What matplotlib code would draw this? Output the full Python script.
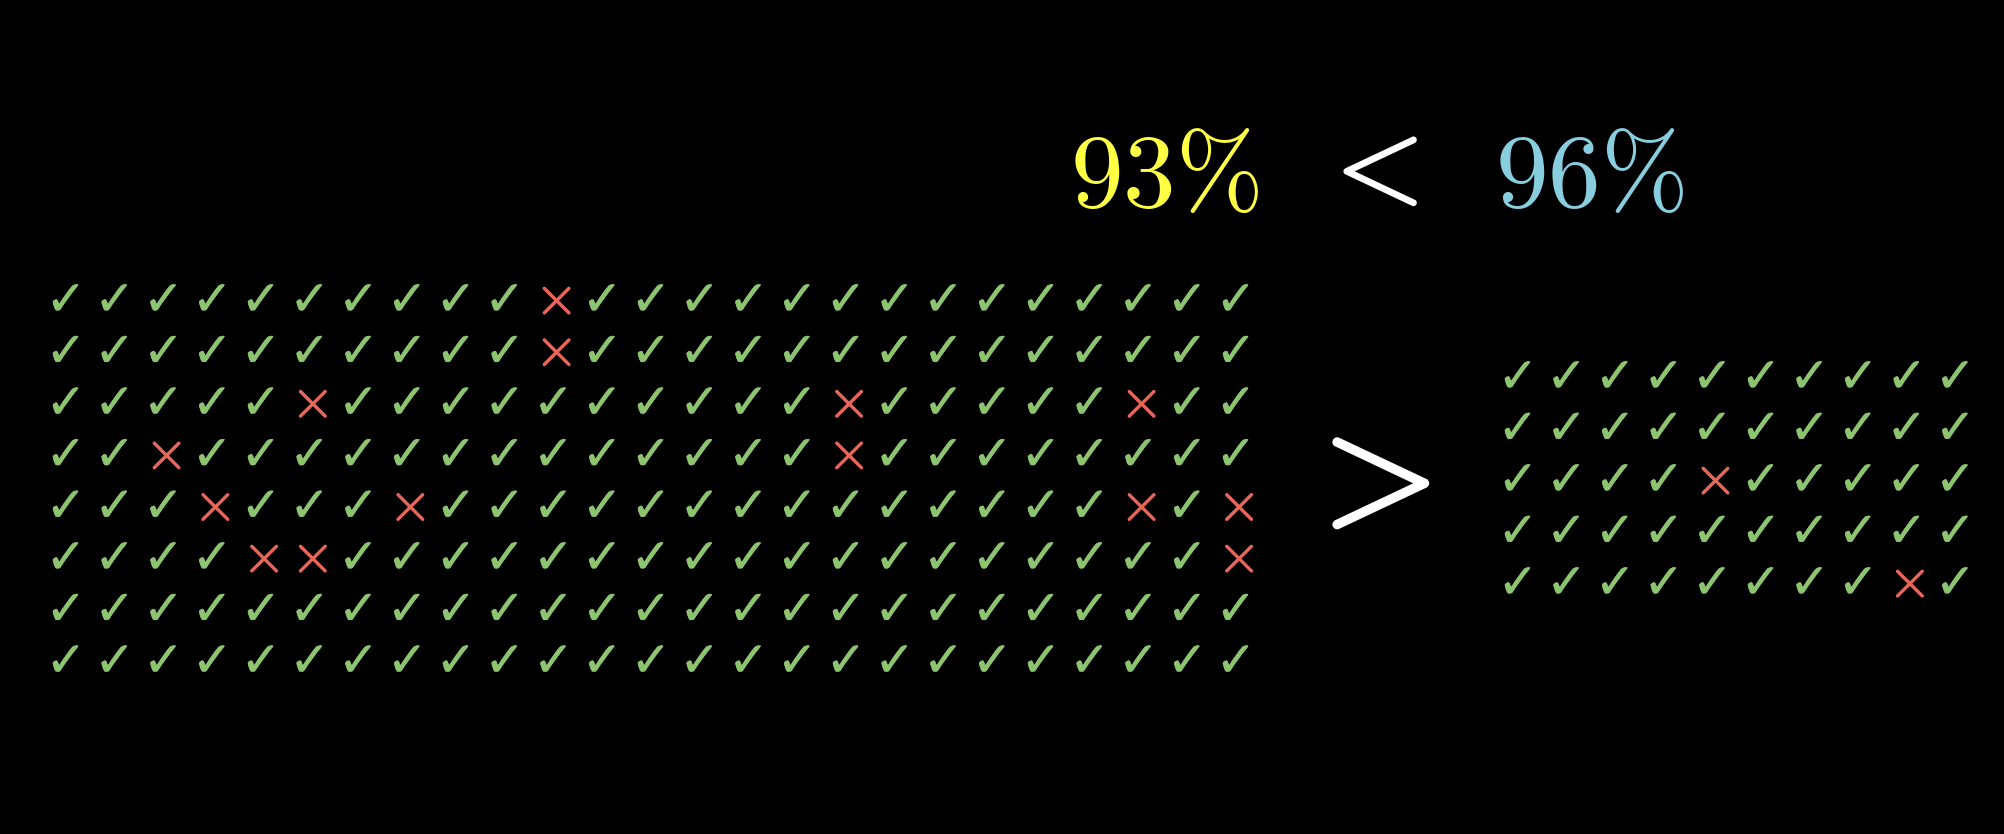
import matplotlib
matplotlib.use("Agg")
import matplotlib.pyplot as plt
import matplotlib.patheffects as pe

plt.rcParams['mathtext.fontset'] = 'cm'

# ---- data ----
left_rows, left_cols = 8, 25
left_wrong = [(0, 10), (1, 10), (2, 5), (2, 16), (2, 22), (3, 2), (3, 16),
              (4, 3), (4, 7), (4, 22), (4, 24), (5, 4), (5, 5), (5, 24)]
right_rows, right_cols = 5, 10
right_wrong = [(2, 4), (4, 8)]
pct_labels = ["93%", "96%"]
pct_colors = ["#FFFF44", "#88CEDF"]
compare_top = "<"
compare_mid = ">"

GREEN = "#8DC46F"
RED = "#E8665A"

W, H = 2004, 834
fig = plt.figure(figsize=(W / 100, H / 100), dpi=100, facecolor="black")
ax = fig.add_axes([0, 0, 1, 1])
ax.set_facecolor("black")
ax.set_xlim(0, W)
ax.set_ylim(H, 0)
ax.axis("off")


def draw_grid(x0, y0, dx, dy, rows, cols, wrong):
    wrong = set(wrong)
    for r in range(rows):
        for c in range(cols):
            x = x0 + c * dx
            y = y0 + r * dy
            if (r, c) in wrong:
                ax.text(x, y, r"$\times$", color=RED, fontsize=40,
                        ha="center", va="center",
                        path_effects=[pe.withStroke(linewidth=0.8, foreground=RED)])
            else:
                ax.text(x, y + 1, "\u2713", color=GREEN, fontsize=35,
                        family="DejaVu Sans", ha="center", va="center",
                        path_effects=[pe.withStroke(linewidth=0.3, foreground=GREEN)])


draw_grid(66, 300, 48.75, 51.6, left_rows, left_cols, left_wrong)
draw_grid(1518, 377, 48.6, 51.5, right_rows, right_cols, right_wrong)

# top comparison
base_y = 207
ax.text(1165, base_y, r"$" + pct_labels[0].replace("%", r"\%") + "$",
        color=pct_colors[0], fontsize=76, ha="center", va="baseline")
ax.text(1590, base_y, r"$" + pct_labels[1].replace("%", r"\%") + "$",
        color=pct_colors[1], fontsize=76, ha="center", va="baseline")
ax.text(1366, 168, r"$" + compare_top + "$", color="white", fontsize=84,
        ha="center", va="center",
        path_effects=[pe.withStroke(linewidth=1.5, foreground="white")])
ax.text(1362, 479, r"$" + compare_mid + "$", color="white", fontsize=110,
        ha="center", va="center",
        path_effects=[pe.withStroke(linewidth=2.5, foreground="white")])

fig.savefig("out.png", dpi=100, facecolor="black")
